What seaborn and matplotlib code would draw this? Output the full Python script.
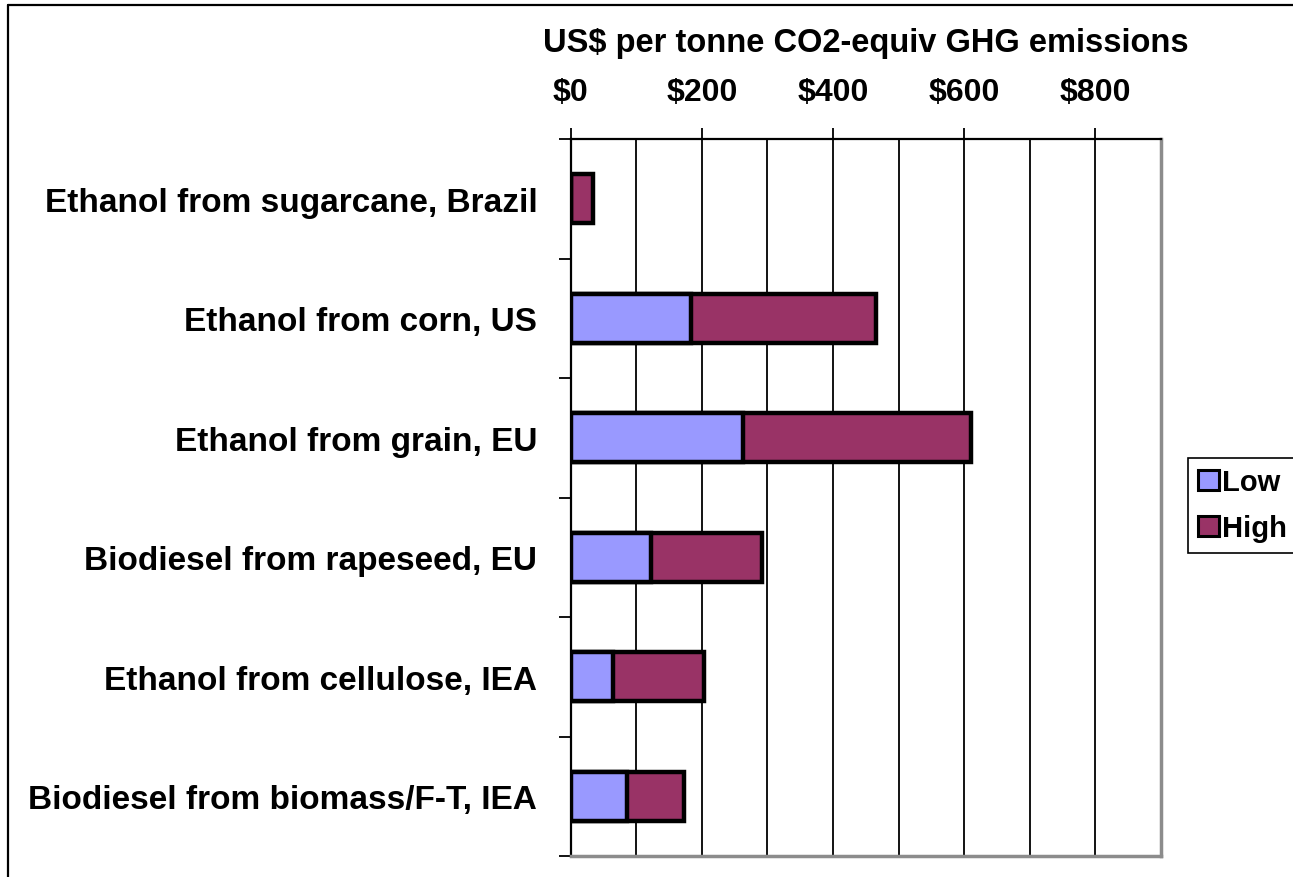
import numpy as np
import pandas as pd
import matplotlib
matplotlib.use("Agg")
import matplotlib.pyplot as plt
import seaborn as sns
from matplotlib.patches import Patch
from matplotlib.lines import Line2D
from matplotlib.ticker import MultipleLocator, FixedLocator

# ---- data (US$ per tonne CO2-eq) ----
processes = [
    "Ethanol from sugarcane, Brazil",
    "Ethanol from corn, US",
    "Ethanol from grain, EU",
    "Biodiesel from rapeseed, EU",
    "Ethanol from cellulose, IEA",
    "Biodiesel from biomass/F-T, IEA",
]
low_cost = [0, 184, 262, 123, 65, 86]
high_cost = [34, 281, 348, 169, 138, 86]
x_ticks = [0, 200, 400, 600, 800]
x_tick_labels = ["$0", "$200", "$400", "$600", "$800"]
series_names = ["Low", "High"]

LOW_COLOR = "#9999FF"
HIGH_COLOR = "#993366"

df = pd.DataFrame({"process": processes, "low": low_cost, "high": high_cost})
df["total"] = df["low"] + df["high"]

sns.set_style("white")
plt.rcParams["font.family"] = ["Liberation Sans", "DejaVu Sans"]
plt.rcParams["font.weight"] = "bold"
for key in ["text.color", "axes.labelcolor", "xtick.color", "ytick.color"]:
    plt.rcParams[key] = "black"

fig = plt.figure(figsize=(12.93, 8.78), dpi=100)
ax = fig.add_axes([570.7 / 1293, 1 - 857 / 878, (1161 - 570.7) / 1293, (857 - 140) / 878])

# stacked bars: total first (High colour), then Low drawn over it
sns.barplot(data=df, y="process", x="total", color=HIGH_COLOR, saturation=1,
            orient="h", width=0.41, errorbar=None, edgecolor="black",
            linewidth=3.2, ax=ax)
sns.barplot(data=df, y="process", x="low", color=LOW_COLOR, saturation=1,
            orient="h", width=0.41, errorbar=None, edgecolor="black",
            linewidth=3.2, ax=ax)

n = len(processes)
ax.set_xlim(0, 900)
ax.set_ylim(n - 0.5, -0.5)

# x axis on top
ax.xaxis.tick_top()
ax.xaxis.set_label_position("top")
ax.set_xticks(x_ticks)
ax.set_xticklabels(x_tick_labels, fontsize=23, fontweight="bold")
ax.xaxis.set_minor_locator(MultipleLocator(100))
ax.tick_params(axis="x", which="major", direction="out", length=8, width=1.3,
               color="black", pad=15, top=True, bottom=False)
ax.tick_params(axis="x", which="minor", length=0)
ax.set_xlabel("US$ per tonne CO2-equiv GHG emissions", fontsize=23.5,
              fontweight="bold", labelpad=19)

# category labels, ticks at the boundaries
ax.set_ylabel("")
ax.set_yticks(range(n))
ax.set_yticklabels(processes, fontsize=24, fontweight="bold")
ax.yaxis.set_minor_locator(FixedLocator(np.arange(-0.5, n, 1.0)))
ax.tick_params(axis="y", which="major", length=0, pad=24)
ax.tick_params(axis="y", which="minor", direction="out", length=9, width=1.3,
               color="black", left=True)

# vertical gridlines every $100
ax.set_axisbelow(True)
ax.grid(False)
ax.grid(which="both", axis="x", color="black", linewidth=1.3)

for side in ["top", "left"]:
    ax.spines[side].set_color("black")
    ax.spines[side].set_linewidth(1.6)
for side in ["right", "bottom"]:
    ax.spines[side].set_color("#8c8c8c")
    ax.spines[side].set_linewidth(2.5)
    ax.spines[side].set_visible(True)

handles = [Patch(facecolor=LOW_COLOR, edgecolor="black", linewidth=2.2),
           Patch(facecolor=HIGH_COLOR, edgecolor="black", linewidth=2.2)]
leg = fig.legend(handles, series_names, loc="upper left",
                 bbox_to_anchor=(1188 / 1293, 1 - 459 / 878),
                 prop={"size": 21, "weight": "bold"}, frameon=True,
                 fancybox=False, framealpha=1, edgecolor="black",
                 handlelength=0.7, handleheight=0.7, handletextpad=0.12,
                 borderpad=0.35, labelspacing=0.62, borderaxespad=0)
leg.get_frame().set_linewidth(1.2)

# outer chart frame (left and top edges visible)
fig.add_artist(Line2D([8 / 1293, 8 / 1293], [0, 1 - 6 / 878], color="black", lw=1.6))
fig.add_artist(Line2D([8 / 1293, 1], [1 - 6 / 878, 1 - 6 / 878], color="black", lw=1.6))

fig.savefig("out.png", dpi=100)
